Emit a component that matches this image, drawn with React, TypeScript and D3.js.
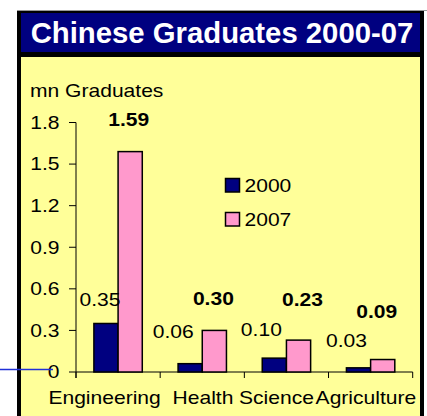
import * as d3 from 'd3';

// Chinese graduates by field, millions
const categories = ['Engineering', 'Health', 'Science', 'Agriculture'];
const seriesNames = ['2000', '2007'];
const values2000 = [0.35, 0.06, 0.1, 0.03];
const values2007 = [1.59, 0.3, 0.23, 0.09];
const yTicks = [0, 0.3, 0.6, 0.9, 1.2, 1.5, 1.8];
const yTickLabels = ['0', '0.3', '0.6', '0.9', '1.2', '1.5', '1.8'];

// label nudges (dx, lift above bar) copied from the hand-placed Excel labels
const nudge2000 = [[-6, 17], [-17, 26], [-13, 22], [-12, 21]];
const nudge2007 = [[-1.5, 26], [-1, 25], [4, 34], [-6, 42]];
const catNudge = [-13.5, 0.7, -10, -4.7];

const NAVY = '#000080';
const PINK = '#FF99CC';
const YELLOW = '#FFFF99';
const SX = 1.17; // Excel stretched the text horizontally
const FONT = '"Liberation Sans", Arial, sans-serif';

function SText({ x, y, anchor = 'middle', bold = false, size = 18, children }: any) {
  return (
    <text
      transform={`translate(${x},${y}) scale(${SX},1)`}
      textAnchor={anchor}
      fontFamily={FONT}
      fontSize={size}
      fontWeight={bold ? 'bold' : 'normal'}
      fill="#000"
    >
      {children}
    </text>
  );
}

export default function App() {
  const width = 427;
  const height = 416;

  const y = d3.scaleLinear().domain([0, 1.8]).range([372, 122.5]);
  const x0 = d3.scaleBand().domain(categories).range([76, 412.7]);
  const x1 = d3
    .scaleBand()
    .domain(seriesNames)
    .range([0, x0.bandwidth()])
    .paddingOuter(0.74);

  const colors = d3.scaleOrdinal<string, string>().domain(seriesNames).range([NAVY, PINK]);
  const data = [values2000, values2007];
  const nudges = [nudge2000, nudge2007];

  const [xl, xr] = x0.range();
  const [y0, yTop] = y.range();

  return (
    <svg
      width={width}
      height={height}
      style={{ position: 'absolute', left: 0, top: 0, background: '#fff' }}
    >
      {/* frame */}
      <line x1={17} x2={427} y1={10.5} y2={10.5} stroke="#999" />
      <rect x={17} y={11} width={407} height={410} fill="#000" />
      <rect x={21} y={13} width={399} height={39} fill={NAVY} />
      <rect x={21} y={57} width={399} height={365} fill={YELLOW} />
      <text
        x={222}
        y={43}
        textAnchor="middle"
        fontFamily={FONT}
        fontSize={29.3}
        fontWeight="bold"
        fill="#fff"
      >
        Chinese Graduates 2000-07
      </text>

      {/* y axis */}
      <SText x={30} y={97} anchor="start">mn Graduates</SText>
      <line x1={xl} x2={xl} y1={yTop} y2={y0 + 6} stroke="#000" />
      {yTicks.map((t, i) => (
        <g key={t} transform={`translate(0,${y(t)})`}>
          <line x1={xl - 7} x2={xl} stroke="#000" />
          <SText x={59.5} y={6.3} anchor="end">{yTickLabels[i]}</SText>
        </g>
      ))}

      {/* x axis */}
      <line x1={xl} x2={xr} y1={y0} y2={y0} stroke="#000" />
      {[...categories.map((c) => x0(c)!), xr].map((px, i) => (
        <line key={i} x1={px} x2={px} y1={y0} y2={y0 + 6} stroke="#000" />
      ))}
      {categories.map((c, i) => (
        <SText key={c} x={x0(c)! + x0.bandwidth() / 2 + catNudge[i]} y={404}>
          {c}
        </SText>
      ))}

      {/* bars */}
      {categories.map((c, i) => (
        <g key={c} transform={`translate(${x0(c)},0)`}>
          {seriesNames.map((s, j) => {
            const v = data[j][i];
            const bx = x1(s)!;
            return (
              <rect
                key={s}
                x={bx}
                y={y(v)}
                width={x1.bandwidth()}
                height={y0 - y(v)}
                fill={colors(s)}
                stroke="#000"
                strokeWidth={1.5}
              />
            );
          })}
        </g>
      ))}

      {/* value labels */}
      {categories.map((c, i) =>
        seriesNames.map((s, j) => {
          const v = data[j][i];
          const [dx, lift] = nudges[j][i];
          return (
            <SText
              key={c + s}
              x={x0(c)! + x1(s)! + x1.bandwidth() / 2 + dx}
              y={y(v) - lift}
              bold={j === 1}
            >
              {v.toFixed(2)}
            </SText>
          );
        })
      )}

      {/* legend */}
      {seriesNames.map((s, j) => (
        <g key={s} transform={`translate(225.5,${178.5 + j * 34})`}>
          <rect width={14} height={13.5} fill={colors(s)} stroke="#000" strokeWidth={1.5} />
          <SText x={19} y={13} anchor="start">{s}</SText>
        </g>
      ))}

      {/* pointer line from the left */}
      <line x1={0} x2={53} y1={369.5} y2={369.5} stroke="#2030d8" strokeWidth={1.3} />
    </svg>
  );
}
